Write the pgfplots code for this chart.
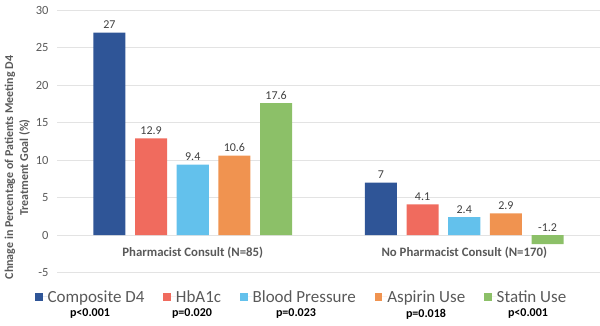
\documentclass[border=0pt]{standalone}
\usepackage{pgfplots}
\pgfplotsset{compat=1.18}
\usepackage{fontspec}
\setmainfont{Carlito}
\definecolor{cComp}{HTML}{2F5597}
\definecolor{cHb}{HTML}{F06B5E}
\definecolor{cBP}{HTML}{63C1EC}
\definecolor{cAsp}{HTML}{F09350}
\definecolor{cStat}{HTML}{8CC068}
\definecolor{txt}{HTML}{595959}
\definecolor{lbl}{HTML}{404040}
\definecolor{gridc}{HTML}{E3E3E3}
\begin{document}
\begin{tikzpicture}
\useasboundingbox (-57pt,-52.5pt) rectangle (543pt,272.5pt);
\begin{axis}[
  scale only axis, width=543pt, height=262.5pt,
  xmin=-0.5, xmax=1.5, ymin=-5, ymax=30,
  ytick={-5,0,5,10,15,20,25,30},
  xtick={0,1},
  xticklabels={Pharmacist Consult (N=85), No Pharmacist Consult (N=170)},
  xticklabel style={font=\fontsize{12.8}{14}\selectfont\bfseries, text=txt, yshift=29pt},
  yticklabel style={font=\fontsize{12.5}{14}\selectfont, text=txt, xshift=-5pt},
  /pgf/number format/assume math mode=true,
  axis line style={draw=none},
  major tick length=0pt,
  ymajorgrids, grid style={draw=gridc, line width=0.8pt},
  ybar, bar width=0.118,
  ylabel={Chnage in Percentage of Patients Meeting D4\\Treatment Goal (\%)},
  ylabel style={at={(axis description cs:-0.073,0.40)}, anchor=center, rotate=0, align=center,
    font=\fontsize{12}{15}\selectfont\bfseries, text=txt},
  nodes near coords,
  nodes near coords align={anchor=south},
  every node near coord/.append style={font=\fontsize{12}{14}\selectfont, text=lbl},
  legend columns=5,
  legend style={at={(axis description cs:-0.0405,-0.0933)}, anchor=west, draw=none, fill=none,
    inner sep=0pt, outer sep=0pt,
    font=\fontsize{17}{19}\selectfont, text=txt,
    nodes={inner sep=0pt},
    /tikz/every even column/.append style={column sep=19pt}},
  legend image code/.code={\fill[#1] (0pt,-4pt) rectangle (7.5pt,3.5pt); \path (0pt,0pt) -- (12.5pt,0pt);},
]
\addplot[fill=cComp, draw=none, bar shift=-0.307] coordinates {(0,27) (1,7)};
\addplot[fill=cHb, draw=none, bar shift=-0.1535] coordinates {(0,12.9) (1,4.1)};
\addplot[fill=cBP, draw=none, bar shift=0] coordinates {(0,9.4) (1,2.4)};
\addplot[fill=cAsp, draw=none, bar shift=0.1535] coordinates {(0,10.6) (1,2.9)};
\addplot[fill=cStat, draw=none, bar shift=0.307, coordinate style/.condition={rawy<0}{yshift=9pt}] coordinates {(0,17.6) (1,-1.2)};
\legend{Composite D4, HbA1c, Blood Pressure, Aspirin Use, Statin Use}
\end{axis}
\begin{scope}[every node/.style={font=\fontsize{12}{14}\selectfont\bfseries, text=black}]
\node at (33pt,-41.5pt) {p<0.001};
\node at (135pt,-41.5pt) {p=0.020};
\node at (239pt,-41.5pt) {p=0.023};
\node at (369pt,-41.5pt) {p=0.018};
\node at (471pt,-41.5pt) {p<0.001};
\end{scope}
\end{tikzpicture}
\end{document}
